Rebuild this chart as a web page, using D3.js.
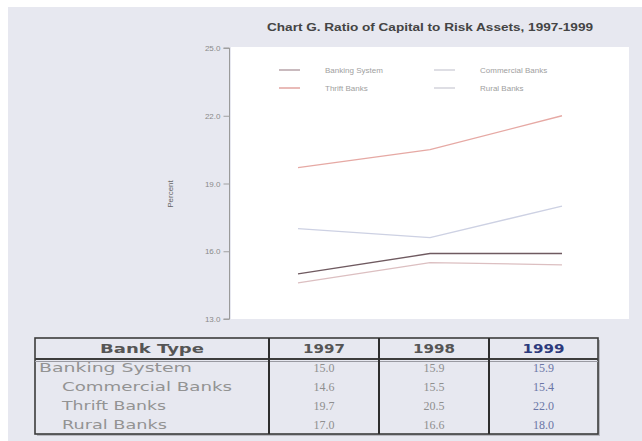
<!DOCTYPE html>
<html>
<head>
<meta charset="utf-8">
<script src="https://cdn.jsdelivr.net/npm/d3@7"></script>
<style>
  html, body { margin: 0; padding: 0; background: #ffffff; }
  svg { display: block; }
</style>
</head>
<body>
<svg id="chart" width="642" height="441"></svg>
<script>
// ---- data ----
const years = ["1997", "1998", "1999"];
const seriesNames = ["Banking System", "Commercial Banks", "Thrift Banks", "Rural Banks"];
const bankingSystem = [15.0, 15.9, 15.9];
const commercialBanks = [14.6, 15.5, 15.4];
const thriftBanks = [19.7, 20.5, 22.0];
const ruralBanks = [17.0, 16.6, 18.0];
const yTicks = [13, 16, 19, 22, 25];
const tableHeader = ["Bank Type", "1997", "1998", "1999"];
const chartTitle = "Chart G. Ratio of Capital to Risk Assets, 1997-1999";
const yAxisLabel = "Percent";

const seriesValues = [bankingSystem, commercialBanks, thriftBanks, ruralBanks];
const seriesColors = ["#6f5a60", "#dcbfc1", "#e6a9a4", "#cdd1e3"];
const legendColors = ["#b7a3a8", "#d3d3db", "#e2a4a0", "#d3d3db"];

const svg = d3.select("#chart");

// background panel
svg.append("rect").attr("x", 8).attr("y", 7).attr("width", 634).attr("height", 434).attr("fill", "#e7e8f0");

// plot area
const x = d3.scalePoint().domain(years).range([298, 562]);
const y = d3.scaleLinear().domain([13, 25]).range([319, 48]);

svg.append("rect").attr("x", 231).attr("y", 47).attr("width", 398).attr("height", 272).attr("fill", "#ffffff");

// title
svg.append("text").attr("x", 430).attr("y", 31).attr("text-anchor", "middle")
  .attr("font-family", "Liberation Sans, Arial, sans-serif").attr("font-size", 10).attr("font-weight", "bold")
  .attr("fill", "#444").attr("textLength", 326).attr("lengthAdjust", "spacingAndGlyphs")
  .text(chartTitle);

// y axis
const yAxis = d3.axisLeft(y).tickValues(yTicks).tickSize(6).tickPadding(3).tickFormat(d3.format(".1f"));
const gy = svg.append("g").attr("transform", "translate(229.5,0)").call(yAxis);
gy.select(".domain").attr("stroke", "#9a9a9a").attr("d", `M-6,${y(25)}H0V${y(13)}H-6`);
gy.selectAll(".tick line").attr("stroke", "#a0a0a0");
gy.selectAll(".tick text").attr("fill", "#8a8a8a").attr("font-family", "Liberation Sans Narrow, Arial, sans-serif").attr("font-size", 8);

svg.append("text").attr("transform", "translate(173,194) rotate(-90)").attr("text-anchor", "middle")
  .attr("font-family", "Liberation Sans, Arial, sans-serif").attr("font-size", 8).attr("fill", "#666")
  .text(yAxisLabel);

// lines
const line = d3.line().x((d, i) => x(years[i])).y(d => y(d));
const drawOrder = [3, 2, 1, 0];
drawOrder.forEach(i => {
  svg.append("path").datum(seriesValues[i]).attr("d", line).attr("fill", "none")
    .attr("stroke", seriesColors[i]).attr("stroke-width", 1.3);
});

// legend
const legendPos = [[279, 70], [434, 70], [279, 88], [434, 88]];
seriesNames.forEach((name, i) => {
  const [lx, ly] = legendPos[i];
  svg.append("line").attr("x1", lx).attr("x2", lx + 21).attr("y1", ly).attr("y2", ly)
    .attr("stroke", legendColors[i]).attr("stroke-width", 1.5);
  svg.append("text").attr("x", lx + 46).attr("y", ly + 3)
    .attr("font-family", "Liberation Sans Narrow, Arial, sans-serif").attr("font-size", 8).attr("fill", "#a0a0a0")
    .text(name);
});

// table
const colEdges = [35, 269, 379, 489, 598];
const headTop = 338, headBottom = 359, tableBottom = 434;
const rowY = [368, 387, 406, 425];
const tableRows = seriesNames.map((n, i) => [n].concat(seriesValues[i]));

const tg = svg.append("g");
tg.append("rect").attr("x", colEdges[0] + 2).attr("y", headTop + 2).attr("width", colEdges[4] - colEdges[0]).attr("height", tableBottom - headTop)
  .attr("fill", "#b8b9c0");
tg.append("rect").attr("x", colEdges[0]).attr("y", headTop).attr("width", colEdges[4] - colEdges[0]).attr("height", tableBottom - headTop)
  .attr("fill", "#e7e8f0").attr("stroke", "#3c3c3c").attr("stroke-width", 1.6);
tg.append("line").attr("x1", colEdges[0]).attr("x2", colEdges[4]).attr("y1", headBottom).attr("y2", headBottom)
  .attr("stroke", "#3c3c3c").attr("stroke-width", 2.2);
tg.append("line").attr("x1", colEdges[0]).attr("x2", colEdges[4]).attr("y1", headBottom + 2.5).attr("y2", headBottom + 2.5)
  .attr("stroke", "#9a9aa2").attr("stroke-width", 1);
colEdges.slice(1, 4).forEach(cx => {
  tg.append("line").attr("x1", cx).attr("x2", cx).attr("y1", headTop).attr("y2", tableBottom)
    .attr("stroke", "#2e2e2e").attr("stroke-width", 2);
});

// header text
tableHeader.forEach((h, j) => {
  const cx = (colEdges[j] + colEdges[j + 1]) / 2;
  tg.append("text").attr("x", cx).attr("y", 353).attr("text-anchor", "middle")
    .attr("font-family", "DejaVu Sans, Verdana, sans-serif").attr("font-size", 12).attr("font-weight", "bold")
    .attr("fill", j === 3 ? "#2c3a7c" : "#555")
    .attr("textLength", j === 0 ? 104 : 42).attr("lengthAdjust", "spacingAndGlyphs")
    .text(h);
});

// body
const labelX = [39, 62, 62, 62];
const labelLen = [153, 170, 104, 105];
tableRows.forEach((r, i) => {
  tg.append("text").attr("x", labelX[i]).attr("y", rowY[i] + 4)
    .attr("font-family", "DejaVu Sans, Verdana, sans-serif").attr("font-size", 12)
    .attr("fill", "#939393").attr("textLength", labelLen[i]).attr("lengthAdjust", "spacingAndGlyphs")
    .text(r[0]);
  for (let j = 1; j <= 3; j++) {
    const cx = (colEdges[j] + colEdges[j + 1]) / 2;
    tg.append("text").attr("x", cx).attr("y", rowY[i] + 4).attr("text-anchor", "middle")
      .attr("font-family", "Liberation Serif, Times New Roman, serif").attr("font-size", 12)
      .attr("fill", j === 3 ? "#6b76a6" : "#8f8f8f")
      .text(d3.format(".1f")(r[j]));
  }
});
</script>
</body>
</html>
